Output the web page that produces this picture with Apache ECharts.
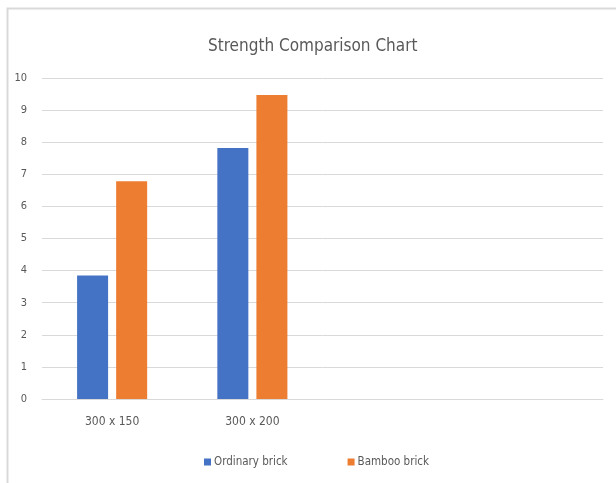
<!DOCTYPE html>
<html>
<head>
<meta charset="utf-8">
<script src="https://cdn.jsdelivr.net/npm/echarts@6/dist/echarts.min.js"></script>
<style>
html,body{margin:0;padding:0;background:#fff;}
#chart{width:616px;height:483px;}
</style>
</head>
<body>
<div id="chart"></div>
<script>
const categories = ['300 x 150', '300 x 200', '', ''];
const ordinaryBrick = [3.85, 7.82, null, null];
const bambooBrick = [6.78, 9.47, null, null];
const seriesNames = ['Ordinary brick', 'Bamboo brick'];

const FONT = '"Liberation Sans Narrow", "DejaVu Sans Condensed", "Liberation Sans", sans-serif';
const chart = echarts.init(document.getElementById('chart'), null, {renderer: 'canvas'});
chart.setOption({
  animation: false,
  backgroundColor: '#ffffff',
  graphic: [{
    type: 'rect', silent: true, z: -10,
    shape: {x: 7.5, y: 8.5, width: 700, height: 600},
    style: {fill: 'none', stroke: '#d9d9d9', lineWidth: 2}
  }],
  title: {
    text: 'Strength Comparison Chart',
    left: 203, top: 33,
    textStyle: {fontFamily: FONT, fontSize: 17, fontWeight: 'normal', color: '#595959'}
  },
  legend: {
    data: seriesNames,
    left: 199, top: 451,
    itemWidth: 7, itemHeight: 7, itemGap: 60,
    icon: 'rect',
    textStyle: {fontFamily: FONT, fontSize: 11.5, color: '#595959', padding: [0, 0, 0, -2]}
  },
  grid: {left: 42, right: 13, top: 78, bottom: 84, containLabel: false},
  xAxis: {
    type: 'category',
    data: categories,
    axisLine: {show: true, lineStyle: {color: '#d9d9d9', width: 1}},
    axisTick: {show: false},
    axisLabel: {fontFamily: FONT, fontSize: 12, color: '#595959', margin: 17}
  },
  yAxis: {
    type: 'value', min: 0, max: 10, interval: 1,
    axisLine: {show: false}, axisTick: {show: false},
    axisLabel: {fontFamily: FONT, fontSize: 11, color: '#595959', margin: 15},
    splitLine: {lineStyle: {color: '#d9d9d9', width: 1}}
  },
  series: [
    {name: seriesNames[0], type: 'bar', data: ordinaryBrick, barWidth: 31, barGap: '26%',
     itemStyle: {color: '#4472c4'}},
    {name: seriesNames[1], type: 'bar', data: bambooBrick, barWidth: 31,
     itemStyle: {color: '#ed7d31'}}
  ]
});
</script>
</body>
</html>
